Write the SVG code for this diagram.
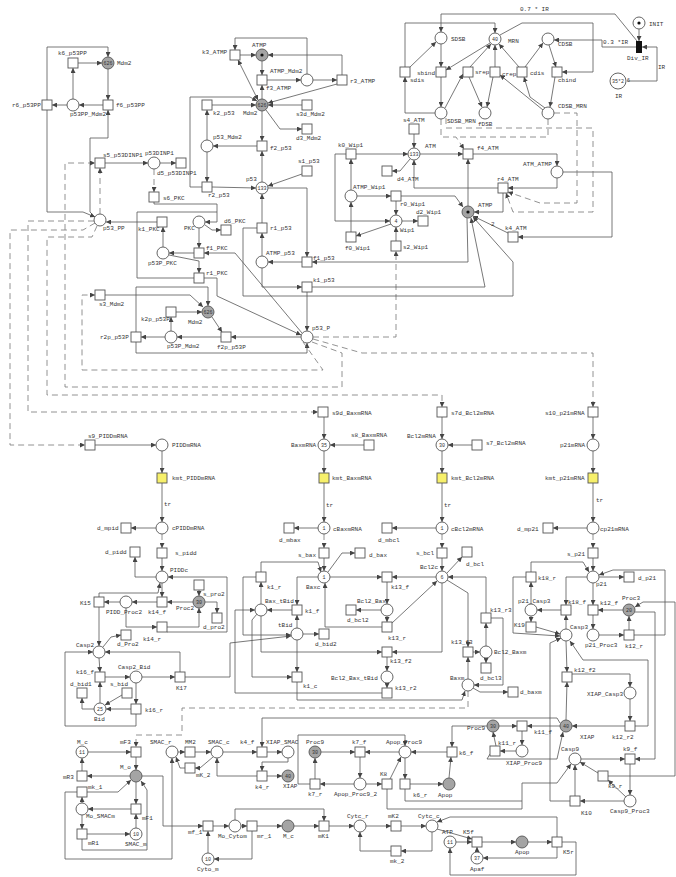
<svg xmlns="http://www.w3.org/2000/svg" width="676" height="877" viewBox="0 0 676 877">
<defs>
<marker id="ar" viewBox="0 0 6 6" refX="6" refY="3" markerWidth="5" markerHeight="5" markerUnits="userSpaceOnUse" orient="auto"><path d="M0,0 L6,3 L0,6 z" fill="#444"/></marker>
<marker id="as" viewBox="0 0 6 6" refX="0" refY="3" markerWidth="5" markerHeight="5" markerUnits="userSpaceOnUse" orient="auto"><path d="M6,0 L0,3 L6,6 z" fill="#444"/></marker>
</defs>
<style>
.P{fill:#fff;stroke:#555;stroke-width:0.9}
.G{fill:#a4a4a4;stroke:#555;stroke-width:0.9}
.T{fill:#fff;stroke:#555;stroke-width:0.9}
.Y{fill:#f7f06b;stroke:#555;stroke-width:0.9}
text{font-family:"Liberation Mono","DejaVu Sans Mono",monospace;font-size:6px;fill:#333}
.k{font-size:5px;text-anchor:middle}
.e{fill:none;stroke:#555;stroke-width:0.8;marker-end:url(#ar)}
.n{fill:none;stroke:#555;stroke-width:0.8}
.b{fill:none;stroke:#555;stroke-width:0.8;marker-end:url(#ar);marker-start:url(#as)}
.d{fill:none;stroke:#777;stroke-width:0.8;stroke-dasharray:6 4;marker-end:url(#ar)}
.dn{fill:none;stroke:#777;stroke-width:0.8;stroke-dasharray:6 4}
</style>
<rect width="676" height="877" fill="#fff"/>

<g id="connectors">
<!-- top-left -->
<path class="e" d="M78,63 L102,63"/>
<path class="e" d="M73,99 L73,68"/>
<path class="e" d="M67,105 L52,105"/>
<path class="e" d="M103,105 L79,105"/>
<path class="e" d="M108,69 L108,100"/>
<path class="e" d="M47,100 L47,47 L108,47 L108,57"/>
<path class="e" d="M47,110 L47,212 L83,212 L95,217"/>
<path class="e" d="M95,217 L90,212 L90,138 L108,138 L108,110"/>
<path class="d" d="M100,214 L100,168"/>
<path class="e" d="M105,163 L148,163"/>
<path class="e" d="M160,163 L176,163"/>
<path class="d" d="M154,169 L154,192"/>
<path class="e" d="M154,202 L154,204 L217,204 L217,222 L205,222"/>
<path class="e" d="M157,222 L106,222"/>
<path class="n" d="M194,278 L137,278 L137,212 L217,212"/>
<path class="e" d="M199,228 L199,248"/>
<path class="e" d="M194,253 L169,253"/>
<path class="e" d="M163,247 L163,227"/>
<path class="e" d="M169,255 L199,261 L199,273"/>
<path class="e" d="M205,225 L212,230 L221,230"/>
<path class="e" d="M302,333 L235,253 L204,253"/>
<path class="e" d="M204,278 L217,278 L217,296 L301,335"/>
<path class="e" d="M105,295 L190,295 L203,307"/>
<path class="e" d="M176,312 L202,312"/>
<path class="e" d="M171,331 L171,317"/>
<path class="e" d="M165,337 L141,337"/>
<path class="e" d="M221,337 L177,337"/>
<path class="e" d="M212,317 L222,332"/>
<path class="e" d="M136,332 L136,287 L208,287 L208,306"/>
<path class="e" d="M136,342 L136,353 L307,353 L307,343"/>
<path class="e" d="M301,337 L231,337"/>
<path class="e" d="M307,292 L307,331"/>
<!-- dashed regulation -->
<path class="d" d="M95,223 L83,230 L10,230 L10,445 L85,445"/>
<path class="d" d="M94,221 L28,221 L28,412 L318,412"/>
<path class="d" d="M97,226 L92,237 L47,237 L47,395 L442,395 L442,407"/>
<path class="d" d="M312,342 L342,353 L342,387 L65,387 L65,163 L95,163"/>
<path class="d" d="M303,342 L323,370 L82,370 L82,295 L95,295"/>
<path class="d" d="M313,339 L362,353 L593,353 L593,407"/>
<path class="d" d="M313,337 L396,337 L396,251"/>
<!-- ATMP / Mdm2 / p53 -->
<path class="e" d="M262,61 L262,75"/>
<path class="e" d="M267,80 L301,80"/>
<path class="e" d="M313,80 L337,80"/>
<path class="e" d="M342,75 L342,55 L268,55"/>
<path class="e" d="M337,84 L268,103"/>
<path class="e" d="M262,99 L262,85"/>
<path class="e" d="M240,55 L256,55"/>
<path class="e" d="M307,74 L307,38 L235,38 L235,50"/>
<path class="b" d="M238,60 L258,100"/>
<path class="e" d="M302,105 L268,105"/>
<path class="e" d="M266,110 L280,129 L302,129"/>
<path class="e" d="M212,105 L256,105"/>
<path class="e" d="M202,187 L190,187 L190,97 L250,97 L257,101"/>
<path class="e" d="M207,140 L207,110"/>
<path class="e" d="M207,152 L207,182"/>
<path class="e" d="M257,146 L213,146"/>
<path class="e" d="M262,111 L262,141"/>
<path class="e" d="M262,182 L262,151"/>
<path class="e" d="M212,187 L256,188"/>
<path class="e" d="M302,174 L268,186"/>
<path class="e" d="M268,188 L307,188 L307,257"/>
<path class="e" d="M262,223 L262,194"/>
<path class="e" d="M262,256 L262,233"/>
<path class="e" d="M302,262 L268,262"/>
<path class="e" d="M262,268 L262,287 L302,287"/>
<path class="e" d="M467,218 L468,262 L312,262"/>
<path class="e" d="M312,287 L485,287 L471,218"/>
<path class="e" d="M257,228 L243,228 L243,296 L513,296 L513,262 L473,217"/>
<!-- Wip1 / ATM -->
<path class="e" d="M356,154 L408,154"/>
<path class="e" d="M351,190 L351,159"/>
<path class="e" d="M346,154 L335,154 L335,221 L390,221"/>
<path class="e" d="M357,196 L391,196"/>
<path class="e" d="M396,201 L396,215"/>
<path class="e" d="M401,196 L455,196 L463,207"/>
<path class="e" d="M402,221 L418,221"/>
<path class="e" d="M391,224 L356,236"/>
<path class="e" d="M351,232 L351,202"/>
<path class="e" d="M396,241 L396,227"/>
<path class="e" d="M414,134 L414,148"/>
<path class="e" d="M410,159 L400,171 L392,171"/>
<path class="e" d="M420,154 L463,154"/>
<path class="e" d="M473,154 L557,154 L557,166"/>
<path class="e" d="M468,206 L468,159"/>
<path class="e" d="M557,178 L557,188 L508,188"/>
<path class="e" d="M503,193 L503,212 L474,212"/>
<path class="e" d="M498,188 L414,188 L414,160"/>
<path class="e" d="M563,172 L612,172 L612,237 L518,237"/>
<path class="e" d="M508,233 L473,216"/>
<!-- DSB -->
<path class="e" d="M639,29 L639,41"/>
<path class="e" d="M627,81 L657,81 L657,47 L642,47"/>
<path class="e" d="M637,41 L615,14 L441,14 L441,32"/>
<path class="e" d="M636,47 L602,47 L602,40 L554,40"/>
<path class="e" d="M441,44 L441,67"/>
<path class="e" d="M441,77 L441,107"/>
<path class="e" d="M409,68 L436,42"/>
<path class="e" d="M435,113 L405,113 L405,77"/>
<path class="e" d="M405,67 L405,23 L495,23 L495,33"/>
<path class="e" d="M490,43 L446,70"/>
<path class="e" d="M470,67 L491,44"/>
<path class="e" d="M495,67 L495,45"/>
<path class="e" d="M519,67 L499,44"/>
<path class="e" d="M469,77 L482,107"/>
<path class="e" d="M493,77 L487,107"/>
<path class="e" d="M445,108 L463,74"/>
<path class="e" d="M543,110 L500,75"/>
<path class="e" d="M545,108 L530,97 L524,77"/>
<path class="e" d="M525,67 L543,43"/>
<path class="e" d="M549,45 L556,67"/>
<path class="e" d="M555,77 L550,107"/>
<path class="e" d="M500,35 L522,23 L593,23 L593,72 L562,72"/>
<path class="d" d="M441,119 L441,137 L456,137 L464,149"/>
<path class="dn" d="M548,119 L548,137 L456,137"/>
<path class="d" d="M446,118 L446,128 L593,128 L593,212 L513,212 L506,193"/>
<path class="d" d="M554,113 L577,113 L577,203 L540,203 L508,192"/>
<!-- PIDD -->
<path class="e" d="M95,445 L156,445"/>
<path class="e" d="M162,451 L162,473"/>
<path class="e" d="M162,483 L162,522"/>
<path class="e" d="M156,528 L131,528"/>
<path class="d" d="M162,534 L162,548"/>
<path class="e" d="M162,558 L162,571"/>
<path class="e" d="M156,577 L135,577 L135,557"/>
<path class="e" d="M162,583 L162,597"/>
<path class="e" d="M193,602 L167,602"/>
<path class="e" d="M157,602 L132,602"/>
<path class="e" d="M120,602 L104,602"/>
<path class="e" d="M126,608 L126,627 L157,627"/>
<path class="e" d="M167,627 L199,627 L199,608"/>
<path class="e" d="M167,632 L227,632 L227,577 L168,577"/>
<path class="e" d="M199,590 L199,596"/>
<path class="e" d="M205,602 L217,602 L217,613"/>
<path class="e" d="M99,597 L99,593 L158,593 L160,583"/>
<path class="e" d="M99,607 L99,646"/>
<path class="e" d="M103,647 L111,637 L121,635"/>
<path class="e" d="M99,658 L100,672"/>
<path class="e" d="M105,677 L130,677"/>
<path class="e" d="M142,677 L175,677"/>
<path class="e" d="M136,683 L136,704"/>
<path class="e" d="M131,709 L106,709"/>
<path class="e" d="M100,703 L100,682"/>
<path class="e" d="M122,695 L105,705"/>
<path class="e" d="M94,709 L82,709 L82,698"/>
<path class="e" d="M136,714 L136,726 L65,726 L65,652 L93,652"/>
<path class="e" d="M180,672 L180,652 L105,652"/>
<path class="e" d="M185,677 L230,677 L230,643 L291,636"/>
<!-- Bax -->
<path class="e" d="M324,417 L324,439"/>
<path class="e" d="M364,445 L330,445"/>
<path class="e" d="M324,451 L324,473"/>
<path class="e" d="M324,483 L324,522"/>
<path class="e" d="M318,528 L294,528"/>
<path class="d" d="M324,534 L324,548"/>
<path class="e" d="M324,558 L324,571"/>
<path class="e" d="M328,572 L342,553 L355,553"/>
<path class="e" d="M330,577 L382,577"/>
<path class="e" d="M436,577 L392,577"/>
<path class="e" d="M387,582 L387,604"/>
<path class="e" d="M381,610 L356,610"/>
<path class="e" d="M387,616 L387,622"/>
<path class="e" d="M382,627 L325,627 L325,583"/>
<path class="e" d="M392,623 L437,581"/>
<path class="e" d="M261,604 L261,582"/>
<path class="e" d="M261,572 L261,562 L318,562 L321,572"/>
<path class="e" d="M256,577 L243,577 L243,635 L291,635"/>
<path class="e" d="M318,577 L297,577 L297,605"/>
<path class="e" d="M297,628 L297,615"/>
<path class="e" d="M292,610 L267,610"/>
<path class="e" d="M303,634 L319,634"/>
<path class="e" d="M257,614 L252,620 L252,677 L292,677"/>
<path class="e" d="M297,640 L297,672"/>
<path class="e" d="M442,583 L442,652 L392,652"/>
<path class="e" d="M261,616 L261,652 L382,652"/>
<path class="e" d="M387,657 L387,671"/>
<path class="e" d="M387,683 L387,688"/>
<path class="e" d="M382,693 L235,693 L235,610 L255,610"/>
<path class="e" d="M297,682 L297,700 L462,700 L465,691"/>
<path class="d" d="M468,691 L468,708 L182,708 L182,735 L136,735 L136,747"/>
<!-- Bcl2 -->
<path class="e" d="M442,417 L442,439"/>
<path class="e" d="M472,445 L448,445"/>
<path class="e" d="M442,451 L442,473"/>
<path class="e" d="M442,483 L442,522"/>
<path class="e" d="M436,528 L392,528"/>
<path class="d" d="M442,534 L442,548"/>
<path class="e" d="M442,558 L442,571"/>
<path class="e" d="M447,573 L462,557"/>
<path class="e" d="M447,580 L468,593 L468,647"/>
<path class="e" d="M468,679 L468,657"/>
<path class="e" d="M473,652 L480,652"/>
<path class="e" d="M486,646 L486,623"/>
<path class="e" d="M486,613 L486,577 L448,577"/>
<path class="e" d="M491,618 L503,618 L503,685 L474,685"/>
<path class="e" d="M486,658 L486,663"/>
<path class="e" d="M473,688 L480,692 L508,692"/>
<!-- p21 -->
<path class="e" d="M593,417 L593,439"/>
<path class="e" d="M593,451 L593,473"/>
<path class="e" d="M593,483 L593,522"/>
<path class="e" d="M587,528 L553,528"/>
<path class="d" d="M593,534 L593,548"/>
<path class="e" d="M593,558 L593,571"/>
<path class="e" d="M599,577 L624,577"/>
<path class="e" d="M593,583 L593,605"/>
<path class="e" d="M623,610 L598,610"/>
<path class="e" d="M593,615 L593,629"/>
<path class="e" d="M599,635 L624,635"/>
<path class="e" d="M629,630 L629,616"/>
<path class="e" d="M634,635 L665,635 L665,570 L613,570 L599,575"/>
<path class="e" d="M587,577 L566,577 L566,605"/>
<path class="e" d="M566,629 L566,615"/>
<path class="e" d="M561,610 L537,610"/>
<path class="e" d="M531,604 L531,582"/>
<path class="e" d="M531,572 L531,562 L583,562 L589,572"/>
<path class="e" d="M531,616 L531,622"/>
<path class="e" d="M536,627 L560,634"/>
<path class="e" d="M526,577 L513,577 L513,633 L560,636"/>
<path class="e" d="M608,776 L675,776 L675,602 L643,602 L635,607"/>
<path class="e" d="M635,612 L655,612 L655,759 L635,759"/>
<!-- Casp3 / Casp9 / XIAP -->
<path class="e" d="M566,641 L567,672"/>
<path class="e" d="M566,720 L567,682"/>
<path class="e" d="M572,674 L630,674 L630,687"/>
<path class="e" d="M630,699 L630,721"/>
<path class="e" d="M625,726 L572,726"/>
<path class="e" d="M635,726 L648,726 L648,660 L583,660 L570,641"/>
<path class="e" d="M570,801 L550,801 L550,643 L561,638"/>
<path class="e" d="M560,726 L527,726"/>
<path class="e" d="M499,726 L517,726"/>
<path class="e" d="M522,731 L522,745"/>
<path class="e" d="M516,751 L500,751"/>
<path class="e" d="M496,746 L493,732"/>
<path class="e" d="M490,754 L487,759 L557,759 L563,732"/>
<path class="e" d="M581,759 L625,759"/>
<path class="e" d="M630,764 L630,795"/>
<path class="e" d="M626,797 L608,780"/>
<path class="e" d="M598,773 L580,762"/>
<path class="e" d="M624,801 L580,801"/>
<path class="e" d="M575,796 L575,765"/>
<path class="e" d="M560,723 L557,718 L262,718 L262,747"/>
<path class="e" d="M487,726 L452,726 L452,747"/>
<path class="e" d="M449,778 L451,757"/>
<path class="e" d="M447,752 L411,752"/>
<path class="e" d="M405,758 L405,779"/>
<path class="e" d="M410,784 L443,784"/>
<path class="n" d="M405,789 L405,801 L522,801"/>
<path class="e" d="M387,789 L387,809 L522,809 L522,783 L557,783 L571,764"/>
<path class="e" d="M399,752 L365,752"/>
<path class="e" d="M321,752 L355,752"/>
<path class="e" d="M360,757 L360,778"/>
<path class="e" d="M354,784 L320,784"/>
<path class="e" d="M315,779 L315,758"/>
<path class="e" d="M310,784 L298,784 L298,735 L405,735 L405,746"/>
<path class="e" d="M366,784 L382,784"/>
<path class="e" d="M390,779 L401,757"/>
<path class="e" d="M223,752 L257,752"/>
<path class="e" d="M267,752 L282,752"/>
<path class="e" d="M288,758 L288,762 L262,762 L262,771"/>
<path class="e" d="M267,776 L282,776"/>
<path class="e" d="M257,776 L217,776 L217,758"/>
<path class="e" d="M213,757 L200,768 L195,768"/>
<path class="e" d="M185,768 L180,768 L176,757"/>
<path class="e" d="M178,752 L185,752"/>
<path class="e" d="M195,752 L211,752"/>
<!-- mitochondria -->
<path class="e" d="M88,752 L131,752"/>
<path class="e" d="M136,757 L136,770"/>
<path class="e" d="M130,776 L87,776"/>
<path class="e" d="M82,771 L82,758"/>
<path class="e" d="M87,792 L118,792 L131,780"/>
<path class="e" d="M82,803 L82,797"/>
<path class="e" d="M77,792 L65,792 L65,859 L172,859 L172,758"/>
<path class="e" d="M136,782 L136,804"/>
<path class="e" d="M131,809 L88,809"/>
<path class="e" d="M136,828 L136,814"/>
<path class="e" d="M82,815 L82,829"/>
<path class="e" d="M87,834 L130,834"/>
<path class="e" d="M82,839 L82,850 L147,850 L147,790 L141,781"/>
<path class="e" d="M142,776 L163,776 L163,826 L203,826"/>
<path class="e" d="M208,853 L208,831"/>
<path class="e" d="M213,826 L229,826"/>
<path class="e" d="M241,826 L247,826"/>
<path class="e" d="M257,826 L282,826"/>
<path class="e" d="M252,831 L252,859 L214,859"/>
<path class="e" d="M294,826 L319,826"/>
<path class="e" d="M235,820 L235,809 L324,809 L324,821"/>
<path class="e" d="M329,826 L354,826"/>
<path class="e" d="M366,826 L391,826"/>
<path class="e" d="M401,826 L426,826"/>
<path class="e" d="M432,832 L432,851 L401,851"/>
<path class="e" d="M391,851 L360,851 L360,832"/>
<path class="e" d="M437,829 L472,839"/>
<path class="e" d="M557,837 L557,817 L450,817 L437,822"/>
<path class="e" d="M456,842 L472,842"/>
<path class="e" d="M482,842 L516,842"/>
<path class="e" d="M528,842 L552,842"/>
<path class="e" d="M557,847 L557,858 L483,858"/>
<path class="e" d="M477,852 L477,847"/>
<path class="e" d="M562,842 L576,842 L576,875 L450,875 L450,848"/>
<!-- arc labels -->
<text x="520" y="11">0.7 * IR</text>
<text x="603" y="44">0.3 *IR</text>
<text x="658" y="69">IR</text>
<text x="491" y="226">2</text>
<text x="164" y="506">tr</text>
<text x="326" y="507">tr</text>
<text x="444" y="507">tr</text>
<text x="596" y="502">tr</text>
</g>

<!-- top-left p53PP / PKC / Mdm2 -->
<g id="k6_p53PP"><rect class="T" x="68" y="58" width="10" height="10"/><text x="58" y="55">k6_p53PP</text></g>
<g id="Mdm2_1"><circle class="G" cx="108" cy="63" r="6"/><text class="k" x="108" y="65">626</text><text x="117" y="65">Mdm2</text></g>
<g id="r6_p53PP"><rect class="T" x="42" y="100" width="10" height="10"/><text x="12" y="107">r6_p53PP</text></g>
<g id="p53PP_Mdm2"><circle class="P" cx="73" cy="105" r="6"/><text x="70" y="116">p53PP_Mdm2</text></g>
<g id="f6_p53PP"><rect class="T" x="103" y="100" width="10" height="10"/><text x="116" y="107">f6_p53PP</text></g>
<g id="s5_p53DINP1"><rect class="T" x="95" y="158" width="10" height="10"/><text x="103" y="157">s5_p53DINP1</text></g>
<g id="p53DINP1"><circle class="P" cx="154" cy="163" r="6"/><text x="145" y="155">p53DINP1</text></g>
<g id="d5_p53DINP1"><rect class="T" x="176" y="158" width="10" height="10"/><text x="157" y="175">d5_p53DINP1</text></g>
<g id="s6_PKC"><rect class="T" x="149" y="192" width="10" height="10"/><text x="163" y="200">s6_PKC</text></g>
<g id="p53_PP"><circle class="P" cx="100" cy="220" r="6"/><text x="103" y="230">p53_PP</text></g>
<g id="k1_PKC"><rect class="T" x="157" y="217" width="10" height="10"/><text x="138" y="231">k1_PKC</text></g>
<g id="PKC"><circle class="P" cx="199" cy="222" r="6"/><text x="184" y="230">PKC</text></g>
<g id="d6_PKC"><rect class="T" x="221" y="225" width="10" height="10"/><text x="224" y="223">d6_PKC</text></g>
<g id="p53P_PKC"><circle class="P" cx="163" cy="253" r="6"/><text x="148" y="265">p53P_PKC</text></g>
<g id="f1_PKC"><rect class="T" x="194" y="248" width="10" height="10"/><text x="206" y="250">f1_PKC</text></g>
<g id="r1_PKC"><rect class="T" x="194" y="273" width="10" height="10"/><text x="206" y="275">r1_PKC</text></g>
<g id="s3_Mdm2"><rect class="T" x="95" y="290" width="10" height="10"/><text x="99" y="306">s3_Mdm2</text></g>
<g id="Mdm2_2"><circle class="G" cx="208" cy="312" r="6"/><text class="k" x="208" y="314">626</text><text x="188" y="324">Mdm2</text></g>
<g id="k2p_p53P"><rect class="T" x="166" y="307" width="10" height="10"/><text x="141" y="321">k2p_p53P</text></g>
<g id="p53P_Mdm2"><circle class="P" cx="171" cy="337" r="6"/><text x="167" y="348">p53P_Mdm2</text></g>
<g id="r2p_p53P"><rect class="T" x="131" y="332" width="10" height="10"/><text x="100" y="339">r2p_p53P</text></g>
<g id="f2p_p53P"><rect class="T" x="221" y="332" width="10" height="10"/><text x="217" y="349">f2p_p53P</text></g>

<!-- ATMP / p53 core -->
<g id="k3_ATMP"><rect class="T" x="230" y="50" width="10" height="10"/><text x="202" y="54">k3_ATMP</text></g>
<g id="ATMP_1"><circle class="G" cx="262" cy="55" r="6"/><circle cx="262" cy="55" r="1.6" fill="#111"/><text x="252" y="47">ATMP</text></g>
<g id="f3_ATMP"><rect class="T" x="257" y="75" width="10" height="10"/><text x="266" y="90">f3_ATMP</text></g>
<g id="ATMP_Mdm2"><circle class="P" cx="307" cy="80" r="6"/><text x="270" y="73">ATMP_Mdm2</text></g>
<g id="r3_ATMP"><rect class="T" x="337" y="75" width="10" height="10"/><text x="350" y="83">r3_ATMP</text></g>
<g id="Mdm2_3"><circle class="G" cx="262" cy="105" r="6"/><text class="k" x="262" y="107">626</text><text x="243" y="115">Mdm2</text></g>
<g id="s3d_Mdm2"><rect class="T" x="302" y="100" width="10" height="10"/><text x="296" y="116">s3d_Mdm2</text></g>
<g id="d3_Mdm2"><rect class="T" x="302" y="124" width="10" height="10"/><text x="296" y="140">d3_Mdm2</text></g>
<g id="k2_p53"><rect class="T" x="202" y="100" width="10" height="10"/><text x="213" y="115">k2_p53</text></g>
<g id="p53_Mdm2"><circle class="P" cx="207" cy="146" r="6"/><text x="213" y="139">p53_Mdm2</text></g>
<g id="f2_p53"><rect class="T" x="257" y="141" width="10" height="10"/><text x="270" y="150">f2_p53</text></g>
<g id="r2_p53"><rect class="T" x="202" y="182" width="10" height="10"/><text x="208" y="197">r2_p53</text></g>
<g id="s1_p53"><rect class="T" x="302" y="166" width="10" height="10"/><text x="298" y="163">s1_p53</text></g>
<g id="p53"><circle class="P" cx="262" cy="188" r="6"/><text class="k" x="262" y="190">133</text><text x="246" y="181">p53</text></g>
<g id="r1_p53"><rect class="T" x="257" y="223" width="10" height="10"/><text x="270" y="230">r1_p53</text></g>
<g id="ATMP_p53"><circle class="P" cx="262" cy="262" r="6"/><text x="266" y="255">ATMP_p53</text></g>
<g id="f1_p53"><rect class="T" x="302" y="257" width="10" height="10"/><text x="313" y="260">f1_p53</text></g>
<g id="k1_p53"><rect class="T" x="302" y="282" width="10" height="10"/><text x="313" y="282">k1_p53</text></g>
<g id="p53_P"><circle class="P" cx="307" cy="337" r="6"/><text x="312" y="330">p53_P</text></g>

<!-- Wip1 / ATM -->
<g id="k0_Wip1"><rect class="T" x="346" y="149" width="10" height="10"/><text x="338" y="147">k0_Wip1</text></g>
<g id="ATMP_Wip1"><circle class="P" cx="351" cy="196" r="6"/><text x="353" y="189">ATMP_Wip1</text></g>
<g id="r0_Wip1"><rect class="T" x="391" y="191" width="10" height="10"/><text x="400" y="206">r0_Wip1</text></g>
<g id="Wip1"><circle class="P" cx="396" cy="221" r="6"/><text class="k" x="396" y="223">4</text><text x="400" y="232">Wip1</text></g>
<g id="d2_Wip1"><rect class="T" x="418" y="216" width="10" height="10"/><text x="416" y="214">d2_Wip1</text></g>
<g id="f0_Wip1"><rect class="T" x="346" y="232" width="10" height="10"/><text x="345" y="250">f0_Wip1</text></g>
<g id="s2_Wip1"><rect class="T" x="391" y="241" width="10" height="10"/><text x="403" y="249">s2_Wip1</text></g>
<g id="ATM"><circle class="P" cx="414" cy="154" r="6"/><text class="k" x="414" y="156">133</text><text x="425" y="148">ATM</text></g>
<g id="s4_ATM"><rect class="T" x="409" y="124" width="10" height="10"/><text x="403" y="122">s4_ATM</text></g>
<g id="d4_ATM"><rect class="T" x="382" y="166" width="10" height="10"/><text x="397" y="181">d4_ATM</text></g>
<g id="f4_ATM"><rect class="T" x="463" y="149" width="10" height="10"/><text x="477" y="150">f4_ATM</text></g>
<g id="ATM_ATMP"><circle class="P" cx="557" cy="172" r="6"/><text x="523" y="166">ATM_ATMP</text></g>
<g id="r4_ATM"><rect class="T" x="498" y="183" width="10" height="10"/><text x="497" y="181">r4_ATM</text></g>
<g id="ATMP_2"><circle class="G" cx="468" cy="212" r="6"/><circle cx="468" cy="212" r="1.6" fill="#111"/><text x="478" y="207">ATMP</text></g>
<g id="k4_ATM"><rect class="T" x="508" y="232" width="10" height="10"/><text x="505" y="230">k4_ATM</text></g>

<!-- DSB / MRN -->
<g id="SDSB"><circle class="P" cx="441" cy="38" r="6"/><text x="451" y="41">SDSB</text></g>
<g id="MRN"><circle class="P" cx="495" cy="39" r="6"/><text class="k" x="495" y="41">40</text><text x="508" y="43">MRN</text></g>
<g id="CDSB"><circle class="P" cx="548" cy="39" r="6"/><text x="558" y="46">CDSB</text></g>
<g id="sdis"><rect class="T" x="400" y="67" width="10" height="10"/><text x="410" y="82">sdis</text></g>
<g id="sbind"><rect class="T" x="436" y="67" width="10" height="10"/><text x="417" y="75">sbind</text></g>
<g id="srep"><rect class="T" x="463" y="67" width="10" height="10"/><text x="475" y="74">srep</text></g>
<g id="crep"><rect class="T" x="490" y="67" width="10" height="10"/><text x="502" y="76">crep</text></g>
<g id="cdis"><rect class="T" x="517" y="67" width="10" height="10"/><text x="530" y="75">cdis</text></g>
<g id="cbind"><rect class="T" x="552" y="67" width="10" height="10"/><text x="558" y="82">cbind</text></g>
<g id="SDSB_MRN"><circle class="P" cx="441" cy="113" r="6"/><text x="447" y="123">SDSB_MRN</text></g>
<g id="fDSB"><circle class="P" cx="485" cy="113" r="6"/><text x="478" y="126">fDSB</text></g>
<g id="CDSB_MRN"><circle class="P" cx="548" cy="113" r="6"/><text x="558" y="108">CDSB_MRN</text></g>
<g id="INIT"><circle class="P" cx="639" cy="23" r="6"/><circle cx="639" cy="23" r="1.6" fill="#111"/><text x="649" y="26">INIT</text></g>
<g id="Div_IR"><rect x="636" y="41" width="6" height="12" fill="#111"/><text x="627" y="60">Div_IR</text></g>
<g id="IR"><circle class="P" cx="618" cy="81" r="8"/><text class="k" x="618" y="83">35*2</text><text x="627" y="82" style="font-size:5px">6</text><text x="615" y="98">IR</text></g>

<!-- PIDD -->
<g id="s9_PIDDmRNA"><rect class="T" x="85" y="440" width="10" height="10"/><text x="88" y="438">s9_PIDDmRNA</text></g>
<g id="PIDDmRNA"><circle class="P" cx="162" cy="445" r="6"/><text x="172" y="447">PIDDmRNA</text></g>
<g id="kmt_PIDDmRNA"><rect class="Y" x="157" y="473" width="10" height="10"/><text x="172" y="480">kmt_PIDDmRNA</text></g>
<g id="cPIDDmRNA"><circle class="P" cx="162" cy="528" r="6"/><text x="172" y="530">cPIDDmRNA</text></g>
<g id="d_mpid"><rect class="T" x="121" y="523" width="10" height="10"/><text x="97" y="530">d_mpid</text></g>
<g id="s_pidd"><rect class="T" x="157" y="548" width="10" height="10"/><text x="175" y="555">s_pidd</text></g>
<g id="d_pidd"><rect class="T" x="130" y="547" width="10" height="10"/><text x="105" y="554">d_pidd</text></g>
<g id="PIDDc"><circle class="P" cx="162" cy="577" r="6"/><text x="170" y="572">PIDDc</text></g>
<g id="k14_f"><rect class="T" x="157" y="597" width="10" height="10"/><text x="148" y="614">k14_f</text></g>
<g id="Proc2"><circle class="G" cx="199" cy="602" r="6"/><text class="k" x="199" y="604">30</text><text x="176" y="610">Proc2</text></g>
<g id="s_pro2"><rect class="T" x="194" y="580" width="10" height="10"/><text x="203" y="596">s_pro2</text></g>
<g id="d_pro2"><rect class="T" x="212" y="613" width="10" height="10"/><text x="203" y="629">d_pro2</text></g>
<g id="PIDD_Proc2"><circle class="P" cx="126" cy="602" r="6"/><text x="106" y="614">PIDD_Proc2</text></g>
<g id="K15"><rect class="T" x="94" y="597" width="10" height="10"/><text x="80" y="605">K15</text></g>
<g id="k14_r"><rect class="T" x="157" y="622" width="10" height="10"/><text x="143" y="641">k14_r</text></g>
<g id="Casp2"><circle class="P" cx="99" cy="652" r="6"/><text x="76" y="647">Casp2</text></g>
<g id="d_Pro2"><rect class="T" x="121" y="630" width="10" height="10"/><text x="117" y="646">d_Pro2</text></g>
<g id="k16_f"><rect class="T" x="95" y="672" width="10" height="10"/><text x="76" y="674">k16_f</text></g>
<g id="Casp2_Bid"><circle class="P" cx="136" cy="677" r="6"/><text x="118" y="669">Casp2_Bid</text></g>
<g id="K17"><rect class="T" x="175" y="672" width="10" height="10"/><text x="176" y="690">K17</text></g>
<g id="k16_r"><rect class="T" x="131" y="704" width="10" height="10"/><text x="145" y="712">k16_r</text></g>
<g id="Bid"><circle class="P" cx="100" cy="709" r="6"/><text class="k" x="100" y="711">25</text><text x="94" y="721">Bid</text></g>
<g id="d_bid1"><rect class="T" x="77" y="688" width="10" height="10"/><text x="70" y="686">d_bid1</text></g>
<g id="s_bid"><rect class="T" x="122" y="688" width="10" height="10"/><text x="110" y="686">s_bid</text></g>

<!-- Bax -->
<g id="s9d_BaxmRNA"><rect class="T" x="318" y="407" width="10" height="10"/><text x="332" y="415">s9d_BaxmRNA</text></g>
<g id="BaxmRNA"><circle class="P" cx="324" cy="445" r="6"/><text class="k" x="324" y="447">35</text><text x="291" y="447">BaxmRNA</text></g>
<g id="s8_BaxmRNA"><rect class="T" x="364" y="440" width="10" height="10"/><text x="351" y="437">s8_BaxmRNA</text></g>
<g id="kmt_BaxmRNA"><rect class="Y" x="319" y="473" width="10" height="10"/><text x="332" y="480">kmt_BaxmRNA</text></g>
<g id="cBaxmRNA"><circle class="P" cx="324" cy="528" r="6"/><text class="k" x="324" y="530">1</text><text x="333" y="531">cBaxmRNA</text></g>
<g id="d_mbax"><rect class="T" x="284" y="523" width="10" height="10"/><text x="279" y="542">d_mbax</text></g>
<g id="s_bax"><rect class="T" x="319" y="548" width="10" height="10"/><text x="298" y="557">s_bax</text></g>
<g id="d_bax"><rect class="T" x="355" y="548" width="10" height="10"/><text x="369" y="557">d_bax</text></g>
<g id="Baxc"><circle class="P" cx="324" cy="577" r="6"/><text class="k" x="324" y="579">1</text><text x="306" y="589">Baxc</text></g>
<g id="k13_f"><rect class="T" x="382" y="572" width="10" height="10"/><text x="391" y="589">k13_f</text></g>
<g id="k1_r"><rect class="T" x="256" y="572" width="10" height="10"/><text x="267" y="589">k1_r</text></g>
<g id="Bax_tBid"><circle class="P" cx="261" cy="610" r="6"/><text x="265" y="603">Bax_tBid</text></g>
<g id="k1_f"><rect class="T" x="292" y="605" width="10" height="10"/><text x="305" y="613">k1_f</text></g>
<g id="tBid"><circle class="P" cx="297" cy="634" r="6"/><text x="278" y="627">tBid</text></g>
<g id="d_bid2"><rect class="T" x="319" y="629" width="10" height="10"/><text x="315" y="646">d_bid2</text></g>
<g id="Bcl2_Bax"><circle class="P" cx="387" cy="610" r="6"/><text x="357" y="603">Bcl2_Bax</text></g>
<g id="d_bcl2"><rect class="T" x="346" y="605" width="10" height="10"/><text x="347" y="622">d_bcl2</text></g>
<g id="k13_r"><rect class="T" x="382" y="622" width="10" height="10"/><text x="388" y="640">k13_r</text></g>
<g id="k13_f2"><rect class="T" x="382" y="647" width="10" height="10"/><text x="390" y="663">k13_f2</text></g>
<g id="Bcl2_Bax_tBid"><circle class="P" cx="387" cy="677" r="6"/><text x="331" y="680">Bcl2_Bax_tBid</text></g>
<g id="k13_r2"><rect class="T" x="382" y="688" width="10" height="10"/><text x="395" y="690">k13_r2</text></g>
<g id="k1_c"><rect class="T" x="292" y="672" width="10" height="10"/><text x="303" y="688">k1_c</text></g>

<!-- Bcl2 -->
<g id="s7d_Bcl2mRNA"><rect class="T" x="437" y="407" width="10" height="10"/><text x="451" y="415">s7d_Bcl2mRNA</text></g>
<g id="Bcl2mRNA"><circle class="P" cx="442" cy="445" r="6"/><text class="k" x="442" y="447">30</text><text x="407" y="438">Bcl2mRNA</text></g>
<g id="s7_Bcl2mRNA"><rect class="T" x="472" y="440" width="10" height="10"/><text x="486" y="445">s7_Bcl2mRNA</text></g>
<g id="kmt_Bcl2mRNA"><rect class="Y" x="437" y="473" width="10" height="10"/><text x="451" y="480">kmt_Bcl2mRNA</text></g>
<g id="cBcl2mRNA"><circle class="P" cx="442" cy="528" r="6"/><text class="k" x="442" y="530">1</text><text x="451" y="531">cBcl2mRNA</text></g>
<g id="d_mbcl"><rect class="T" x="382" y="523" width="10" height="10"/><text x="378" y="542">d_mbcl</text></g>
<g id="s_bcl"><rect class="T" x="437" y="548" width="10" height="10"/><text x="416" y="555">s_bcl</text></g>
<g id="d_bcl"><rect class="T" x="462" y="547" width="10" height="10"/><text x="466" y="566">d_bcl</text></g>
<g id="Bcl2c"><circle class="P" cx="442" cy="577" r="6"/><text class="k" x="442" y="579">6</text><text x="420" y="569">Bcl2c</text></g>
<g id="k13_r3"><rect class="T" x="481" y="613" width="10" height="10"/><text x="490" y="612">k13_r3</text></g>
<g id="k13_f3"><rect class="T" x="463" y="647" width="10" height="10"/><text x="451" y="644">k13_f3</text></g>
<g id="Bcl2_Baxm"><circle class="P" cx="486" cy="652" r="6"/><text x="494" y="654">Bcl2_Baxm</text></g>
<g id="d_bcl3"><rect class="T" x="481" y="663" width="10" height="10"/><text x="480" y="680">d_bcl3</text></g>
<g id="Baxm"><circle class="P" cx="468" cy="685" r="6"/><text x="450" y="680">Baxm</text></g>
<g id="d_baxm"><rect class="T" x="508" y="687" width="10" height="10"/><text x="520" y="694">d_baxm</text></g>

<!-- p21 -->
<g id="s10_p21mRNA"><rect class="T" x="588" y="407" width="10" height="10"/><text x="545" y="415">s10_p21mRNA</text></g>
<g id="p21mRNA"><circle class="P" cx="593" cy="445" r="6"/><text x="560" y="447">p21mRNA</text></g>
<g id="kmt_p21mRNA"><rect class="Y" x="588" y="473" width="10" height="10"/><text x="545" y="480">kmt_p21mRNA</text></g>
<g id="cp21mRNA"><circle class="P" cx="593" cy="528" r="6"/><text x="600" y="531">cp21mRNA</text></g>
<g id="d_mp21"><rect class="T" x="543" y="523" width="10" height="10"/><text x="517" y="531">d_mp21</text></g>
<g id="s_p21"><rect class="T" x="588" y="548" width="10" height="10"/><text x="567" y="556">s_p21</text></g>
<g id="p21"><circle class="P" cx="593" cy="577" r="6"/><text x="596" y="586">p21</text></g>
<g id="d_p21"><rect class="T" x="624" y="572" width="10" height="10"/><text x="638" y="580">d_p21</text></g>
<g id="k18_r"><rect class="T" x="526" y="572" width="10" height="10"/><text x="538" y="580">k18_r</text></g>
<g id="p21_Casp3"><circle class="P" cx="531" cy="610" r="6"/><text x="518" y="603">p21_Casp3</text></g>
<g id="K19"><rect class="T" x="526" y="622" width="10" height="10"/><text x="514" y="627">K19</text></g>
<g id="k18_f"><rect class="T" x="561" y="605" width="10" height="10"/><text x="568" y="604">k18_f</text></g>
<g id="k12_f"><rect class="T" x="588" y="605" width="10" height="10"/><text x="600" y="605">k12_f</text></g>
<g id="Proc3"><circle class="G" cx="629" cy="610" r="6"/><text class="k" x="629" y="612">20</text><text x="622" y="600">Proc3</text></g>
<g id="p21_Proc3"><circle class="P" cx="593" cy="635" r="6"/><text x="585" y="647">p21_Proc3</text></g>
<g id="k12_r"><rect class="T" x="624" y="630" width="10" height="10"/><text x="625" y="648">k12_r</text></g>
<g id="Casp3"><circle class="P" cx="566" cy="635" r="6"/><text x="570" y="629">Casp3</text></g>
<g id="k12_f2"><rect class="T" x="562" y="672" width="10" height="10"/><text x="574" y="672">k12_f2</text></g>
<g id="XIAP_Casp3"><circle class="P" cx="630" cy="693" r="6"/><text x="587" y="696">XIAP_Casp3</text></g>
<g id="k12_r2"><rect class="T" x="625" y="721" width="10" height="10"/><text x="612" y="739">k12_r2</text></g>
<g id="XIAP_2"><circle class="G" cx="566" cy="726" r="6"/><text class="k" x="566" y="728">40</text><text x="580" y="739">XIAP</text></g>
<g id="k11_f"><rect class="T" x="517" y="721" width="10" height="10"/><text x="534" y="734">k11_f</text></g>
<g id="Proc9_2"><circle class="G" cx="493" cy="726" r="6"/><text class="k" x="493" y="728">30</text><text x="467" y="730">Proc9</text></g>
<g id="XIAP_Proc9"><circle class="P" cx="522" cy="751" r="6"/><text x="506" y="765">XIAP_Proc9</text></g>
<g id="k11_r"><rect class="T" x="490" y="746" width="10" height="10"/><text x="498" y="745">k11_r</text></g>
<g id="Casp9"><circle class="P" cx="575" cy="759" r="6"/><text x="561" y="751">Casp9</text></g>
<g id="k9_f"><rect class="T" x="625" y="754" width="10" height="10"/><text x="623" y="751">k9_f</text></g>
<g id="k9_r"><rect class="T" x="598" y="771" width="10" height="10"/><text x="608" y="788">k9_r</text></g>
<g id="Casp9_Proc3"><circle class="P" cx="630" cy="801" r="6"/><text x="610" y="813">Casp9_Proc3</text></g>
<g id="K10"><rect class="T" x="570" y="796" width="10" height="10"/><text x="581" y="815">K10</text></g>
<g id="k6_f"><rect class="T" x="447" y="747" width="10" height="10"/><text x="459" y="755">k6_f</text></g>

<!-- Apoptosome / XIAP / SMAC -->
<g id="Apop_Proc9"><circle class="P" cx="405" cy="752" r="6"/><text x="386" y="744">Apop_Proc9</text></g>
<g id="k7_f"><rect class="T" x="355" y="747" width="10" height="10"/><text x="352" y="744">k7_f</text></g>
<g id="Proc9_1"><circle class="G" cx="315" cy="752" r="6"/><text class="k" x="315" y="754">30</text><text x="306" y="744">Proc9</text></g>
<g id="Apop_Proc9_2"><circle class="P" cx="360" cy="784" r="6"/><text x="334" y="796">Apop_Proc9_2</text></g>
<g id="k7_r"><rect class="T" x="310" y="779" width="10" height="10"/><text x="308" y="796">k7_r</text></g>
<g id="K8"><rect class="T" x="382" y="779" width="10" height="10"/><text x="380" y="776">K8</text></g>
<g id="k6_r"><rect class="T" x="400" y="779" width="10" height="10"/><text x="413" y="797">k6_r</text></g>
<g id="Apop_1"><circle class="G" cx="449" cy="784" r="6"/><text x="438" y="797">Apop</text></g>
<g id="XIAP_SMAC"><circle class="P" cx="288" cy="752" r="6"/><text x="266" y="744">XIAP_SMAC</text></g>
<g id="k4_f"><rect class="T" x="257" y="747" width="10" height="10"/><text x="240" y="744">k4_f</text></g>
<g id="k4_r"><rect class="T" x="257" y="771" width="10" height="10"/><text x="255" y="789">k4_r</text></g>
<g id="XIAP_1"><circle class="G" cx="288" cy="776" r="6"/><text class="k" x="288" y="778">40</text><text x="283" y="788">XIAP</text></g>
<g id="SMAC_c"><circle class="P" cx="217" cy="752" r="6"/><text x="208" y="744">SMAC_c</text></g>
<g id="MM2"><rect class="T" x="185" y="747" width="10" height="10"/><text x="185" y="744">MM2</text></g>
<g id="mK_2"><rect class="T" x="185" y="763" width="10" height="10"/><text x="196" y="777">mK_2</text></g>
<g id="SMAC_r"><circle class="P" cx="172" cy="752" r="6"/><text x="150" y="744">SMAC_r</text></g>

<!-- mitochondria / cytochrome c -->
<g id="M_c_1"><circle class="P" cx="82" cy="752" r="6"/><text class="k" x="82" y="754">11</text><text x="77" y="744">M_c</text></g>
<g id="mF3"><rect class="T" x="131" y="747" width="10" height="10"/><text x="120" y="744">mF3</text></g>
<g id="M_o"><circle class="G" cx="136" cy="776" r="6"/><text x="120" y="769">M_o</text></g>
<g id="mR3"><rect class="T" x="77" y="771" width="10" height="10"/><text x="63" y="779">mR3</text></g>
<g id="mk_1"><rect class="T" x="77" y="787" width="10" height="10"/><text x="88" y="789">mk_1</text></g>
<g id="Mo_SMACm"><circle class="P" cx="82" cy="809" r="6"/><text x="86" y="818">Mo_SMACm</text></g>
<g id="mF1"><rect class="T" x="131" y="804" width="10" height="10"/><text x="142" y="820">mF1</text></g>
<g id="mR1"><rect class="T" x="77" y="829" width="10" height="10"/><text x="88" y="845">mR1</text></g>
<g id="SMAC_m"><circle class="P" cx="136" cy="834" r="6"/><text class="k" x="136" y="836">10</text><text x="125" y="846">SMAC_m</text></g>
<g id="mf_1"><rect class="T" x="203" y="821" width="10" height="10"/><text x="188" y="834">mf_1</text></g>
<g id="Cyto_m"><circle class="P" cx="208" cy="859" r="6"/><text class="k" x="208" y="861">10</text><text x="197" y="871">Cyto_m</text></g>
<g id="Mo_Cytom"><circle class="P" cx="235" cy="826" r="6"/><text x="218" y="838">Mo_Cytom</text></g>
<g id="mr_1"><rect class="T" x="247" y="821" width="10" height="10"/><text x="257" y="838">mr_1</text></g>
<g id="M_c_2"><circle class="G" cx="288" cy="826" r="6"/><text x="283" y="838">M_c</text></g>
<g id="mK1"><rect class="T" x="319" y="821" width="10" height="10"/><text x="318" y="838">mK1</text></g>
<g id="Cytc_r"><circle class="P" cx="360" cy="826" r="6"/><text x="347" y="818">Cytc_r</text></g>
<g id="mK2"><rect class="T" x="391" y="821" width="10" height="10"/><text x="388" y="818">mK2</text></g>
<g id="Cytc_c"><circle class="P" cx="432" cy="826" r="6"/><text x="418" y="818">Cytc_c</text></g>
<g id="mk_2"><rect class="T" x="391" y="846" width="10" height="10"/><text x="390" y="863">mk_2</text></g>
<g id="ATP"><circle class="P" cx="450" cy="842" r="6"/><text class="k" x="450" y="844">11</text><text x="442" y="834">ATP</text></g>
<g id="K5f"><rect class="T" x="472" y="837" width="10" height="10"/><text x="463" y="834">K5f</text></g>
<g id="Apop_2"><circle class="G" cx="522" cy="842" r="6"/><text x="515" y="854">Apop</text></g>
<g id="K5r"><rect class="T" x="552" y="837" width="10" height="10"/><text x="563" y="854">K5r</text></g>
<g id="Apaf"><circle class="P" cx="477" cy="858" r="6"/><text class="k" x="477" y="860">37</text><text x="470" y="871">Apaf</text></g>
</svg>
